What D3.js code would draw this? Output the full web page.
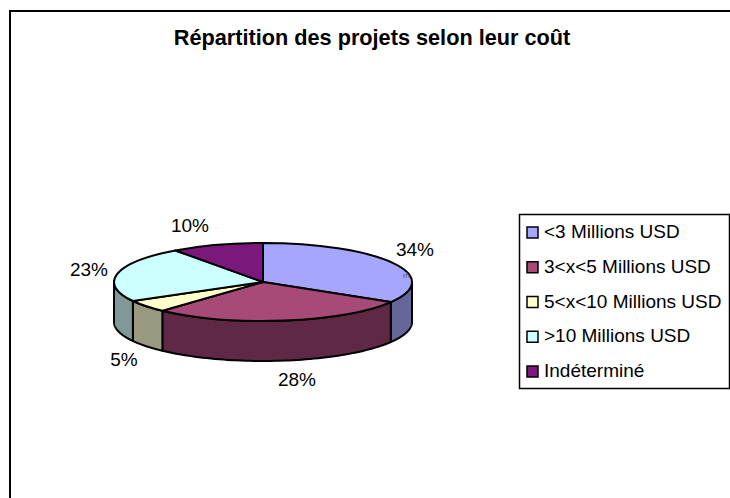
<!DOCTYPE html>
<html>
<head>
<meta charset="utf-8">
<script src="https://cdn.jsdelivr.net/npm/d3@7"></script>
<style>
  html, body { margin: 0; padding: 0; background: #fff; }
  text { font-family: "Liberation Sans", Arial, sans-serif; fill: #000; }
</style>
</head>
<body>
<svg id="drawing_region"></svg>
<script>
const categories = ['<3 Millions USD', '3<x<5 Millions USD', '5<x<10 Millions USD', '>10 Millions USD', 'Indéterminé'];
// read from the slice boundaries, the labels round these to whole percents
const values = [33.6, 28.2, 5.1, 23.1, 10];
const topColors = ['#a6a6ff', '#a84a78', '#ffffcc', '#ccffff', '#7b187b'];
const sideColors = ['#666699', '#5f2844', '#99997f', '#7f9999', '#4a0f4a'];
const title = 'Répartition des projets selon leur coût';

const width = 730, height = 498;
const cx = 263, cy = 282, rx = 149, ry = 39, depth = 40;

const svg = d3.select('#drawing_region')
    .attr('width', width)
    .attr('height', height)
    .style('display', 'block');

// Frame: only top and left edges are visible in the crop
svg.append('path')
    .attr('d', `M10,${height}V11H${width}`)
    .attr('fill', 'none')
    .attr('stroke', '#000')
    .attr('stroke-width', 2);

svg.append('text')
    .attr('x', 372)
    .attr('y', 45)
    .attr('text-anchor', 'middle')
    .attr('font-size', 21.7)
    .attr('font-weight', 'bold')
    .text(title);

const pie = d3.pie().sort(null).value(d => d);
const slices = pie(values);

// Point on the tilted ellipse; angle runs clockwise from the top, like d3.arc
const px = a => rx * Math.sin(a);
const py = a => -ry * Math.cos(a);

const chart = svg.append('g')
    .attr('transform', `translate(${cx},${cy})`);

// Outer wall: only the front half of the ellipse (PI/2 to 3PI/2) can be seen
function wallPath(d) {
    const a0 = Math.max(d.startAngle, Math.PI / 2);
    const a1 = Math.min(d.endAngle, 3 * Math.PI / 2);
    const n = 60;
    const angles = d3.range(n + 1).map(i => a0 + (a1 - a0) * i / n);
    const upper = angles.map(a => [px(a), py(a)]);
    const lower = angles.slice().reverse().map(a => [px(a), py(a) + depth]);
    return d3.line()(upper.concat(lower)) + 'Z';
}

chart.selectAll('path.wall')
    .data(slices.filter(d => d.endAngle > Math.PI / 2 && d.startAngle < 3 * Math.PI / 2))
    .enter()
    .append('path')
    .attr('class', 'wall')
    .attr('d', wallPath)
    .attr('fill', d => sideColors[d.index])
    .attr('stroke', '#000')
    .attr('stroke-width', 2)
    .attr('stroke-linejoin', 'round');

// Top face: a plain d3.arc squashed into the ellipse
const arc = d3.arc().innerRadius(0).outerRadius(rx);

chart.append('g')
    .attr('transform', `scale(1,${ry / rx})`)
    .selectAll('path')
    .data(slices)
    .enter()
    .append('path')
    .attr('d', arc)
    .attr('fill', d => topColors[d.index])
    .attr('stroke', '#000')
    .attr('stroke-width', 2)
    .attr('stroke-linejoin', 'round')
    .attr('vector-effect', 'non-scaling-stroke');

// Percentage labels sit by hand just outside each slice
const labelOffsets = [[152, -26], [34, 104], [-139, 84], [-174, -6], [-73, -50]];

chart.selectAll('text.pct')
    .data(slices)
    .enter()
    .append('text')
    .attr('class', 'pct')
    .attr('x', d => labelOffsets[d.index][0])
    .attr('y', d => labelOffsets[d.index][1])
    .attr('text-anchor', 'middle')
    .attr('font-size', 19)
    .text(d => `${Math.round(d.data)}%`);

// stray speck of text beside the 34% label in the source
svg.append('text')
    .attr('x', 403)
    .attr('y', 278)
    .attr('font-size', 8)
    .style('fill', '#555')
    .text('m');

// Legend
const legend = svg.append('g').attr('transform', 'translate(519,214)');

legend.append('rect')
    .attr('x', 0.5)
    .attr('y', 0.5)
    .attr('width', 210)
    .attr('height', 174)
    .attr('fill', '#fff')
    .attr('stroke', '#000')
    .attr('stroke-width', 1.5);

const rowY = d3.scalePoint().domain(categories).range([18, 157]);

const rows = legend.selectAll('g.row')
    .data(categories)
    .enter()
    .append('g')
    .attr('class', 'row')
    .attr('transform', d => `translate(0,${rowY(d)})`);

rows.append('rect')
    .attr('x', 8)
    .attr('y', -5)
    .attr('width', 11)
    .attr('height', 11)
    .attr('fill', (d, i) => topColors[i])
    .attr('stroke', '#000')
    .attr('stroke-width', 1.5);

rows.append('text')
    .attr('x', 25)
    .attr('y', 6)
    .attr('font-size', 19)
    .text(d => d);
</script>
</body>
</html>
